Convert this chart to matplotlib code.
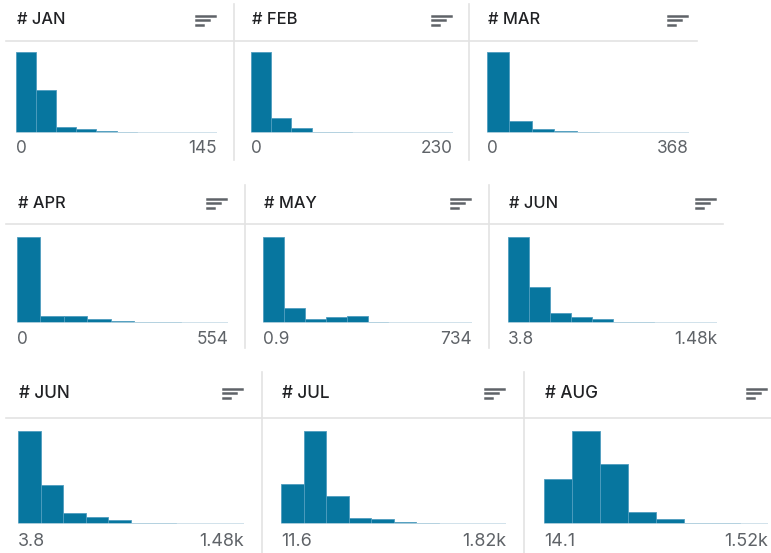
import matplotlib.pyplot as plt
import numpy as np
from matplotlib.lines import Line2D

plt.rcParams['font.family'] = ['Inter', 'DejaVu Sans']

# column names and their min / max labels
months = ['JAN', 'FEB', 'MAR', 'APR', 'MAY', 'JUN', 'JUN', 'JUL', 'AUG']
lo_labels = ['0', '0', '0', '0', '0.9', '3.8', '3.8', '11.6', '14.1']
hi_labels = ['145', '230', '368', '554', '734', '1.48k', '1.48k', '1.82k', '1.52k']

# relative bin counts (tallest bin = 100)
jan = [100, 53.5, 7.8, 4.5, 2.9, 1.6, 0.5, 0.4, 0.3, 0.3]
feb = [100, 18.5, 5.8, 1.6, 0.8, 0.3, 0.3, 0.2, 0.2, 0.2]
mar = [100, 14.4, 4.5, 2.0, 0.8, 0.4, 0.2, 0.2, 0.2]
apr = [100, 7.8, 7.8, 5.0, 1.9, 0.8, 0.6, 0.3, 0.3]
may = [100, 17.9, 4.7, 6.6, 7.8, 1.6, 0.5, 0.3, 0.3, 0.3]
jun = [100, 41.6, 11.7, 7.4, 4.7, 1.2, 0.8, 0.3, 0.3, 0.3]
jul = [42.9, 100, 30.0, 6.8, 5.0, 2.1, 1.4, 0.4, 0.4, 0.4]
aug = [48.9, 100, 65.0, 12.5, 5.0, 1.1, 0.6, 0.4]
counts = [jan, feb, mar, apr, may, jun, jun, jul, aug]

W, H = 771, 553
def fx(x):
    return x / W
def fy(y):
    return 1 - y / H

# layout in pixels: one entry per row
rows = [
    dict(head=20, hline=41, top=52, base=133, lab=149, v0=4, v1=160,
         vx=[234, 469], hx=(6, 697), fs=11.8),
    dict(head=203, hline=224, top=237, base=323, lab=340, v0=185, v1=348,
         vx=[245, 489], hx=(6, 723), fs=11.8),
    dict(head=393, hline=418, top=431, base=524, lab=542, v0=372, v1=553,
         vx=[262, 524], hx=(6, 771), fs=12.3),
]
# hist left / right per panel
spans = [(16, 217), (251, 453), (487, 689),
         (17, 228), (263, 472), (508, 717),
         (18, 244), (281, 506), (544, 768)]

bar_color = '#07769f'
edge_color = '#4f9dbf'
line_color = '#e3e3e3'

fig = plt.figure(figsize=(7.71, 5.53), dpi=100)

for r, row in enumerate(rows):
    fig.add_artist(Line2D([fx(row['hx'][0]), fx(row['hx'][1])],
                          [fy(row['hline'])] * 2, color=line_color, lw=1.2))
    for vx in row['vx']:
        fig.add_artist(Line2D([fx(vx)] * 2, [fy(row['v0']), fy(row['v1'])],
                              color=line_color, lw=1.2))

for i, name in enumerate(months):
    row = rows[i // 3]
    left, right = spans[i]
    vals = counts[i]
    n = len(vals)

    ax = fig.add_axes([fx(left), fy(row['base']), (right - left) / W,
                       (row['base'] - row['top']) / H])
    ax.bar(np.arange(n), vals, width=1, align='edge', color=bar_color,
           edgecolor=edge_color, linewidth=0.6)
    ax.axhline(0, color='#c9dde7', lw=1.2)
    ax.set_xlim(0, n)
    ax.set_ylim(0, max(vals))
    ax.axis('off')

    # header text and sort icon
    fig.text(fx(left + 1), fy(row['head']), '# ' + name, ha='left', va='center',
             fontsize=row['fs'], color='#202124', fontweight='medium')
    ix = right - 21
    iy = row['head'] - 4.5
    for k, ln in enumerate([19, 13, 7]):
        fig.add_artist(Line2D([fx(ix), fx(ix + ln)], [fy(iy + 4.5 * k)] * 2,
                              color='#5f6368', lw=1.8))

    # min / max labels
    fig.text(fx(left), fy(row['lab']), lo_labels[i], ha='left', va='center',
             fontsize=row['fs'] + 0.6, color='#5f6368')
    fig.text(fx(right), fy(row['lab']), hi_labels[i], ha='right', va='center',
             fontsize=row['fs'] + 0.6, color='#5f6368')

plt.savefig('out.png', dpi=100)
